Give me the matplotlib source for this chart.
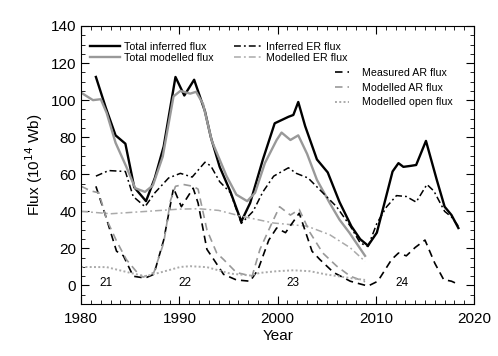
import matplotlib
matplotlib.use("Agg")
import matplotlib.pyplot as plt
from matplotlib.ticker import MultipleLocator

plt.rcParams['font.family'] = ['Liberation Sans', 'DejaVu Sans']

# total inferred flux (black solid)
ti_yr = [1981.5, 1982.5, 1983.5, 1984.5, 1985.4, 1986.6, 1987.5, 1988.4, 1989.6, 1990.5,
         1991.5, 1992.6, 1993.2, 1994.1, 1995.2, 1996.3, 1997.2, 1998.5, 1999.7, 2001.1,
         2001.6, 2002.1, 2002.8, 2004.0, 2005.1, 2006.3, 2007.5, 2008.4, 2009.2, 2010.1,
         2011.7, 2012.3, 2012.8, 2013.5, 2014.1, 2015.1, 2016.2, 2017.0, 2017.7, 2018.4]
ti_val = [112.5, 96, 81, 76.5, 53, 45.5, 58, 75, 112.5, 102.5,
          111, 94, 80, 64, 50.5, 34.5, 44.5, 68, 87.5, 91,
          92, 99, 86, 68, 61, 45, 32, 25, 21.5, 28.5,
          61.5, 66, 64, 64.5, 65, 78, 57, 42.5, 38, 31]

# total modelled flux (grey solid)
tm_yr = [1980, 1980.6, 1981.2, 1982, 1982.6, 1983.5, 1984.6, 1985.5, 1986.5, 1987.3,
         1988.3, 1989.4, 1990.1, 1991.1, 1991.7, 1992.4, 1993.3, 1994.8, 1995.8, 1996.9,
         1997.7, 1998.7, 1999.9, 2000.4, 2001.3, 2002.1, 2003.0, 2004.0, 2005.3, 2006.3,
         2007.3, 2008.9]
tm_val = [104, 102, 100, 100.5, 93, 77, 64, 52.5, 50.5, 54,
          69.5, 102, 105, 103.5, 104.5, 98, 78, 59, 49, 45.5,
          50, 66, 78.5, 82.5, 78.5, 81, 71, 57, 44.5, 35.5,
          28.5, 16]

# inferred ER flux (black dash-dot)
ie_yr = [1981.5, 1982.8, 1984.5, 1985.3, 1986.5, 1987.5, 1988.9, 1990.1, 1991.3, 1992.6,
         1993.2, 1994.1, 1995.2, 1996.3, 1997.5, 1998.5, 1999.6, 2001.1, 2001.9, 2003.1,
         2004.6, 2006.0, 2007.4, 2008.4, 2009.2, 2010.1, 2011.1, 2012.1, 2013.1, 2014.1,
         2015.2, 2015.9, 2017.0, 2017.7, 2018.4]
ie_val = [59, 62, 61.5, 48, 42.5, 50, 58, 60.5, 58.5, 66.5,
          64.5, 56, 50, 33.5, 40, 50.5, 59, 63.5, 60.5, 58,
          50, 42.5, 32, 23, 21, 33.5, 42.5, 48.5, 48, 45,
          54.5, 51, 40, 37, 32]

# modelled ER flux (grey dash-dot)
me_yr = [1980, 1983, 1986.7, 1990, 1992, 1994, 1996.2, 1999.6, 2003, 2005.3, 2007.4, 2008.9]
me_val = [40, 38.7, 40, 41.2, 41.4, 40.5, 37.5, 33.7, 32, 27.4, 20.3, 13]

# measured AR flux (black dashed)
ma_yr = [1981.5, 1982.4, 1983.6, 1984.3, 1985.3, 1986.5, 1987.4, 1988.4, 1989.4, 1990.2,
         1991.4, 1991.9, 1992.8, 1993.5, 1994.5, 1995.8, 1997.2, 1998.0, 1999.1, 1999.9,
         2000.8, 2002.2, 2003.5, 2004.3, 2005.7, 2007.4, 2008.0, 2009.2, 2010.2, 2011.6,
         2012.3, 2013.1, 2014.0, 2015.0, 2016.0, 2016.9, 2017.7, 2018.4]
ma_val = [53.5, 39, 18.5, 16, 5, 4, 6, 24.5, 52.5, 42.5,
          52.5, 44.5, 19.5, 14, 6, 3, 2.3, 8.5, 24.5, 31,
          28.5, 39, 18.5, 14, 7, 2.3, 1.4, -0.3, 2.3, 14,
          17.5, 16, 20.5, 24.5, 12, 3.2, 2.3, 0.6]

# modelled AR flux (grey dashed)
mr_yr = [1980, 1981, 1981.8, 1982.6, 1983.6, 1984.6, 1985.7, 1986.3, 1987.4, 1988.4,
         1989.1, 1989.6, 1990.4, 1991.4, 1991.9, 1992.8, 1993.8, 1994.5, 1995.8, 1997.4,
         1998.2, 1999.4, 2000.2, 2001.3, 2002.2, 2003.3, 2004.6, 2006.0, 2007.4, 2008.9]
mr_val = [53.5, 51, 50, 35.5, 24, 14, 7, 4.5, 7, 23,
          46, 53.5, 54.5, 53.5, 52, 30, 17.5, 14, 7, 5,
          19.5, 33.5, 42.5, 38, 41, 28.5, 17.5, 10.5, 5, 2]

# modelled open flux (grey dotted)
of_yr = [1980, 1982.6, 1985, 1986.5, 1987.9, 1990.1, 1991.1, 1992.8, 1994.1, 1995.2,
         1997.2, 1998.2, 1999.9, 2001.6, 2003.3, 2005.0, 2007.4, 2008.9]
of_val = [10, 9.9, 6.8, 5, 6.8, 10, 10.4, 9.9, 8, 6.4,
          5.4, 6.8, 7.7, 8.2, 7.7, 5.9, 4, 3]

cycles = ['21', '22', '23', '24']
cycle_x = [1982.5, 1990.6, 2001.6, 2012.7]

fig = plt.figure(figsize=(4.98, 3.56), dpi=100)
ax = fig.add_axes([0.163, 0.146, 0.789, 0.781])

grey = '#999999'
lgrey = '#aaaaaa'

l1, = ax.plot(ti_yr, ti_val, color='black', lw=1.7, label='Total inferred flux')
l2, = ax.plot(tm_yr, tm_val, color=grey, lw=1.7, label='Total modelled flux')
l3, = ax.plot(ie_yr, ie_val, color='black', lw=1.1, dashes=(4.5, 2, 1.2, 2), label='Inferred ER flux')
l4, = ax.plot(me_yr, me_val, color=lgrey, lw=1.1, dashes=(4.5, 2, 1.2, 2), label='Modelled ER flux')
l5, = ax.plot(ma_yr, ma_val, color='black', lw=1.2, dashes=(4.5, 3), label='Measured AR flux')
l6, = ax.plot(mr_yr, mr_val, color=grey, lw=1.2, dashes=(4.5, 3), label='Modelled AR flux')
l7, = ax.plot(of_yr, of_val, color=lgrey, lw=1.4, dashes=(1, 1.2), label='Modelled open flux')

for c, x in zip(cycles, cycle_x):
    ax.text(x, 1.5, c, ha='center', va='center', fontsize=8.5)

ax.set_xlim(1980, 2020)
ax.set_ylim(-10, 140)
ax.xaxis.set_major_locator(MultipleLocator(10))
ax.xaxis.set_minor_locator(MultipleLocator(1))
ax.yaxis.set_major_locator(MultipleLocator(20))
ax.yaxis.set_minor_locator(MultipleLocator(5))
ax.tick_params(which='both', direction='in', top=True, right=True, labelsize=11)
ax.tick_params(which='major', length=6, width=0.8)
ax.tick_params(which='minor', length=3, width=0.6)
ax.tick_params(axis='x', which='major', pad=6)
for s in ax.spines.values():
    s.set_linewidth(0.8)

ax.set_xlabel('Year', fontsize=11, labelpad=2)
ax.set_ylabel('Flux (10$^{14}$ Wb)', fontsize=11)

kw = dict(frameon=False, fontsize=7.7, borderpad=0, borderaxespad=0,
          labelspacing=0.15, loc='upper left')
legA = ax.legend(handles=[l1, l2], bbox_to_anchor=(0.022, 0.944), handlelength=2.8,
                 handletextpad=0.4, **kw)
ax.add_artist(legA)
legB = ax.legend(handles=[l3, l4], bbox_to_anchor=(0.388, 0.944), handlelength=2.6,
                 handletextpad=0.4, **kw)
ax.add_artist(legB)
kw['labelspacing'] = 0.45
legC = ax.legend(handles=[l5, l6, l7], bbox_to_anchor=(0.646, 0.85), handlelength=1.3,
                 handletextpad=1.2, **kw)

fig.savefig('out.png', dpi=100)
